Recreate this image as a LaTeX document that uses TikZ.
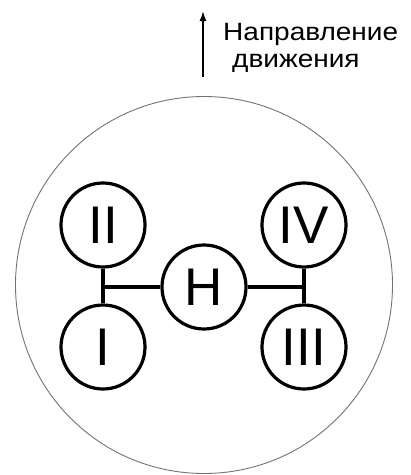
\documentclass[tikz,border=0pt]{standalone}
\usepackage{fontspec}
\setmainfont{Liberation Sans}
\usetikzlibrary{arrows.meta}
\begin{document}
\begin{tikzpicture}[x=1pt,y=-1pt,
  wheel/.style={circle,draw,line width=3.2pt,minimum size=84pt,inner sep=0pt,font=\fontsize{53}{53}\selectfont},
  link/.style={line width=3.2pt},
  lbl/.style={anchor=base west,inner sep=0pt,xscale=1.12,transform shape,font=\fontsize{25}{25}\selectfont}]
\useasboundingbox (0,0) rectangle (411,475);
\node[circle,draw=black!55,line width=0.9pt,minimum size=377pt,inner sep=0pt] (body) at (204,285) {};
\node[wheel] (II) at (103,225) {II};
\node[wheel] (I) at (103,347) {I};
\node[wheel] (IV) at (304,225) {IV};
\node[wheel] (III) at (304,347) {III};
\node[wheel] (H) at (204,287) {H};
\coordinate (jl) at (103,287);
\coordinate (jr) at (304,287);
\draw[link] (II) -- (I);
\draw[link] (IV) -- (III);
\draw[link] (jl) -- (H);
\draw[link] (H) -- (jr);
\coordinate (ab) at (203,77);
\coordinate (at) at (203,11);
\draw[line width=1.6pt,-{Latex[length=10pt,width=7pt]}] (ab) -- (at);
\node[lbl] (t1) at (223,40) {Направление};
\node[lbl] (t2) at (232,67) {движения};
\end{tikzpicture}
\end{document}
